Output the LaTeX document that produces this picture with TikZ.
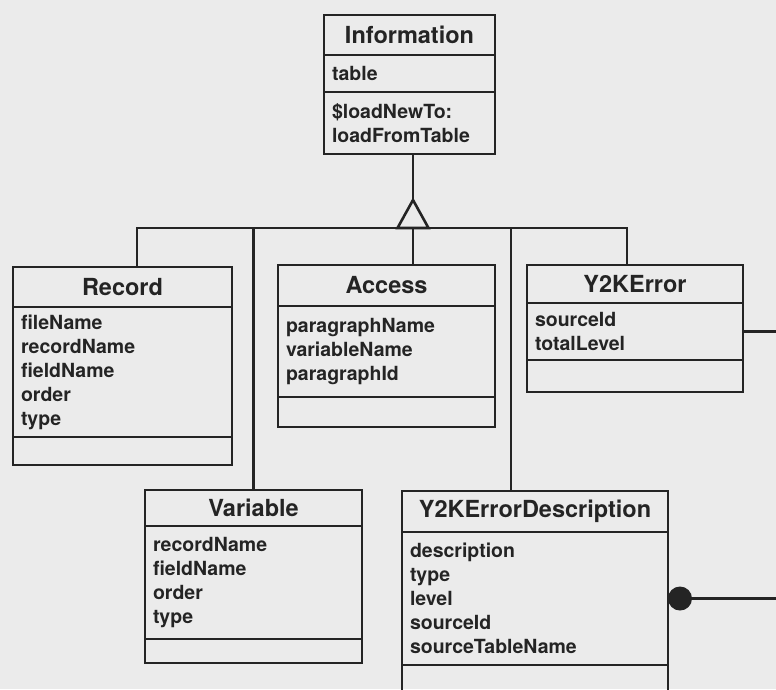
\documentclass[tikz,border=0pt]{standalone}
\usepackage{fontspec}
\setmainfont{TeX Gyre Heros}
\usetikzlibrary{positioning}
\definecolor{paper}{HTML}{EBEBEB}
\definecolor{ink}{HTML}{242424}
\begin{document}
\begin{tikzpicture}[x=1pt, y=-1pt,
  ctitle/.style={draw=ink, line width=2.8pt, inner sep=0pt, outer sep=0pt, text=ink,
    font=\fontsize{23.5}{28}\selectfont\bfseries},
  cattr/.style={draw=ink, line width=2.8pt, inner xsep=8pt, inner ysep=0pt, outer sep=0pt,
    align=left, text=ink, font=\fontsize{19.5}{24}\selectfont\bfseries},
  cops/.style={draw=ink, line width=2.8pt, inner sep=0pt, outer sep=0pt},
  link/.style={draw=ink, line width=2.6pt}]
\useasboundingbox (0,0) rectangle (776,689);
\fill[paper] (0,0) rectangle (776,689);
\clip (0,0) rectangle (776,689);

\node (info-t) [ctitle, minimum width=171, minimum height=40] at (409.5,35) {Information};
\node (info-a) [cattr, text width=155, minimum height=37, below=0pt of info-t] {table};
\node (info-o) [cattr, text width=155, minimum height=62, below=0pt of info-a] {\$loadNewTo:\\loadFromTable};

\node (rec-t) [ctitle, minimum width=219, minimum height=40] at (122.5,287) {Record};
\node (rec-a) [cattr, text width=203, minimum height=130, below=0pt of rec-t] {fileName\\recordName\\fieldName\\order\\type};
\node (rec-o) [cops, minimum width=219, minimum height=28, below=0pt of rec-a] {};

\node (acc-t) [ctitle, minimum width=217, minimum height=41] at (386.5,285.5) {Access};
\node (acc-a) [cattr, text width=201, minimum height=91, below=0pt of acc-t] {paragraphName\\variableName\\paragraphId};
\node (acc-o) [cops, minimum width=217, minimum height=30, below=0pt of acc-a] {};

\node (y2k-t) [ctitle, minimum width=216, minimum height=38] at (635,284) {Y2KError};
\node (y2k-a) [cattr, text width=200, minimum height=57, below=0pt of y2k-t] {sourceId\\totalLevel};
\node (y2k-o) [cops, minimum width=216, minimum height=32, below=0pt of y2k-a] {};

\node (var-t) [ctitle, minimum width=217, minimum height=36] at (253.5,508) {Variable};
\node (var-a) [cattr, text width=201, minimum height=113, below=0pt of var-t] {recordName\\fieldName\\order\\type};
\node (var-o) [cops, minimum width=217, minimum height=24, below=0pt of var-a] {};

\node (desc-t) [ctitle, minimum width=266, minimum height=41] at (535,511.5) {Y2KErrorDescription};
\node (desc-a) [cattr, text width=250, minimum height=133, below=0pt of desc-t] {description\\type\\level\\sourceId\\sourceTableName};
\node (desc-o) [cops, minimum width=266, minimum height=40, below=0pt of desc-a] {};

\coordinate (apex) at (413,200);
\coordinate (base) at (413,228);
\coordinate (edge) at (800,0);

\draw[link] (apex |- info-o.south) -- (apex);
\draw[link] (apex) -- ++(-15.5,28) -- ++(31,0) -- cycle;
\draw[link] (base) -- (base |- acc-t.north);
\draw[link] (base) -| ([xshift=14.5pt]rec-t.north);
\draw[link] (base) -| (var-t.north);
\draw[link] (base) -| ([xshift=-24pt]desc-t.north);
\draw[link] (base) -| ([xshift=-8pt]y2k-t.north);

\draw[link] (y2k-a.east) -- (y2k-a.east -| edge);
\draw[link] (desc-a.east) -- (desc-a.east -| edge);
\node (dot) [circle, fill=ink, minimum size=24pt, inner sep=0pt] at ([xshift=12pt]desc-a.east) {};
\end{tikzpicture}
\end{document}
